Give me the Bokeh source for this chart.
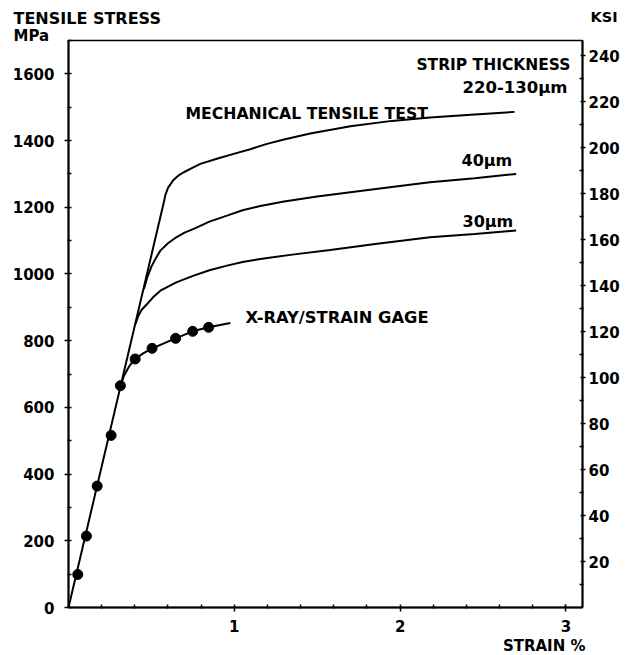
from bokeh.plotting import figure
from bokeh.models import Range1d, LinearAxis, FixedTicker, Label, Title
from bokeh.embed import file_html
from bokeh.resources import INLINE

# ---------------- data ----------------
x_ticks = [1, 2, 3]
x_minor = [0.2, 0.4, 0.6, 0.8, 1.2, 1.4, 1.6, 1.8, 2.2, 2.4, 2.6, 2.8, 3.0]
mpa_ticks = [0, 200, 400, 600, 800, 1000, 1200, 1400, 1600]
mpa_minor = [100, 300, 500, 700, 900, 1100, 1300, 1500, 1700]
ksi_ticks = [20, 40, 60, 80, 100, 120, 140, 160, 180, 200, 220, 240]
ksi_minor = [10, 30, 50, 70, 90, 110, 130, 150, 170, 190, 210, 230]

# mechanical tensile test, strip thickness 220-130 um (includes elastic line)
mech_strain = [0, 0.575, 0.585, 0.60, 0.63, 0.66, 0.695, 0.75, 0.795, 0.90, 0.996,
               1.096, 1.197, 1.30, 1.458, 1.60, 1.70, 1.95, 2.18, 2.45, 2.69]
mech_stress = [0, 1215, 1238, 1258, 1280, 1294, 1305, 1319, 1330, 1346, 1360,
               1374, 1390, 1403, 1421, 1434, 1443, 1459, 1469, 1478, 1486]

# 40 um strip
t40_strain = [0.455, 0.475, 0.50, 0.53, 0.554, 0.60, 0.65, 0.70, 0.755, 0.85, 0.956,
              1.05, 1.157, 1.30, 1.50, 1.70, 1.95, 2.18, 2.45, 2.70]
t40_stress = [955, 990, 1022, 1050, 1070, 1092, 1110, 1124, 1135, 1157, 1175,
              1191, 1204, 1217, 1232, 1245, 1261, 1275, 1287, 1300]

# 30 um strip
t30_strain = [0.404, 0.42, 0.44, 0.474, 0.51, 0.554, 0.65, 0.755, 0.85, 0.956, 1.05,
              1.157, 1.35, 1.578, 1.85, 2.18, 2.45, 2.70]
t30_stress = [850, 873, 892, 910, 930, 950, 975, 995, 1011, 1025, 1036,
              1045, 1058, 1072, 1090, 1110, 1120, 1130]

# X-ray / strain gage measurements
xray_strain = [0.056, 0.108, 0.173, 0.257, 0.313, 0.402, 0.504, 0.646, 0.749, 0.845]
xray_stress = [99, 214, 364, 516, 665, 745, 777, 807, 828, 840]
xray_line_strain = [0.313, 0.335, 0.36, 0.38, 0.402, 0.45, 0.504, 0.646, 0.749, 0.845, 0.976]
xray_line_stress = [665, 695, 718, 733, 745, 762, 777, 807, 828, 840, 853]

MPA_PER_KSI = 6.894757
X_MAX, Y_MAX = 3.1, 1700

# frame placement in the window (pixels)
FL, FT, FR, FB = 68, 40, 582, 607
W, H = 638, 655
SHIFT = 22  # extra top border (hidden above the window) that holds the outside texts

# ---------------- figure ----------------
p = figure(width=W, height=H + SHIFT, x_range=Range1d(0, X_MAX), y_range=Range1d(0, Y_MAX),
           output_backend="svg", toolbar_location=None,
           min_border_left=FL, min_border_right=W - FR,
           min_border_top=FT + SHIFT, min_border_bottom=H - FB,
           margin=(-SHIFT, 0, 0, 0))
p.xgrid.visible = False
p.ygrid.visible = False
p.background_fill_color = "white"
p.border_fill_color = "white"
p.outline_line_color = "black"
p.outline_line_width = 1.5

FONT = "DejaVu Sans"

def style_axis(ax, ticks, minor, standoff, tin=3, tout=4):
    ax.ticker = FixedTicker(ticks=ticks, minor_ticks=minor)
    ax.axis_line_color = "black"
    ax.axis_line_width = 2
    ax.major_tick_line_color = "black"
    ax.major_tick_line_width = 1.5
    ax.major_tick_in = tin
    ax.major_tick_out = tout
    ax.minor_tick_line_color = "black"
    ax.minor_tick_line_width = 1.5
    ax.minor_tick_in = 3
    ax.minor_tick_out = 1
    ax.major_label_text_font = FONT
    ax.major_label_text_font_style = "bold"
    ax.major_label_text_font_size = "15px"
    ax.major_label_text_color = "black"
    ax.major_label_standoff = standoff

style_axis(p.xaxis[0], x_ticks, x_minor, 8)
style_axis(p.yaxis[0], mpa_ticks, mpa_minor, 10)

p.extra_y_ranges = {"ksi": Range1d(0, Y_MAX / MPA_PER_KSI)}
rax = LinearAxis(y_range_name="ksi")
style_axis(rax, ksi_ticks, ksi_minor, 3, tin=2, tout=3)
p.add_layout(rax, "right")

# x axis title under the axis, right aligned
p.add_layout(Title(text="STRAIN %", align="right", offset=-3, standoff=0,
                   text_font=FONT, text_font_style="bold", text_font_size="15px",
                   text_color="black"), "below")

# ---------------- curves ----------------
LW = 2
p.line(mech_strain, mech_stress, line_color="black", line_width=LW)
p.line(t40_strain, t40_stress, line_color="black", line_width=LW)
p.line(t30_strain, t30_stress, line_color="black", line_width=LW)
p.line(xray_line_strain, xray_line_stress, line_color="black", line_width=LW)
p.scatter(xray_strain, xray_stress, size=10, marker="circle",
          fill_color="black", line_color="black")

# ---------------- texts ----------------
def dx(px):
    return (px - FL) / (FR - FL) * X_MAX

def dy(py):
    return (FB - py) / (FB - FT) * Y_MAX

def add_text(txt, px, py, size="16px", align="left", place=None):
    lab = Label(x=dx(px), y=dy(py), text=txt, text_font=FONT,
                text_font_style="bold", text_font_size=size,
                text_align=align, text_baseline="alphabetic",
                text_color="black")
    if place is None:
        p.add_layout(lab)
    else:
        p.add_layout(lab, place)

# texts outside the frame live in the side panel (not clipped to the frame)
add_text("TENSILE STRESS", 13, 18, place="above")
add_text("MPa", 13, 35.5, size="15px", place="above")
add_text("KSI", 590, 16, size="14.5px", place="above")

add_text("STRIP THICKNESS", 570, 64.5, size="15.5px", align="right")
add_text("220-130μm", 567, 87, size="16.5px", align="right")
add_text("MECHANICAL TENSILE TEST", 185, 112.5, size="15.7px")
add_text("40μm", 461, 160)
add_text("30μm", 462, 220.5)
add_text("X-RAY/STRAIN GAGE", 245, 317, size="16.3px")

open("out.html", "w").write(file_html(p, INLINE))
